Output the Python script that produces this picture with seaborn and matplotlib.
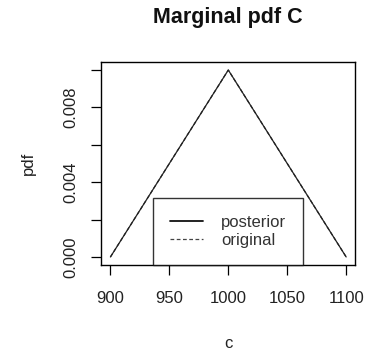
import matplotlib
matplotlib.use("Agg")
import matplotlib.pyplot as plt
import seaborn as sns
import pandas as pd
from matplotlib.lines import Line2D

# data
c_values = [900, 1000, 1100]
posterior_pdf = [0.0, 0.01, 0.0]
original_pdf = [0.0, 0.01, 0.0]
x_ticks = [900, 950, 1000, 1050, 1100]
y_ticks = [0.000, 0.002, 0.004, 0.006, 0.008, 0.010]
y_tick_labels = ["0.000", "", "0.004", "", "0.008", ""]

sns.set_theme(style="white")
plt.rcParams['font.family'] = ['Liberation Sans', 'DejaVu Sans']

df = pd.DataFrame({
    "c": c_values + c_values,
    "pdf": posterior_pdf + original_pdf,
    "series": ["posterior"] * len(c_values) + ["original"] * len(c_values),
})

fig = plt.figure(figsize=(3.7, 3.52), dpi=100)
ax = fig.add_axes([101/370, 1 - 265/352, 254/370, 203/352])

sns.lineplot(data=df, x="c", y="pdf", style="series",
             style_order=["posterior", "original"],
             dashes={"posterior": "", "original": (3, 2)},
             color="#222222", linewidth=0.9, ax=ax, legend=False)

ax.set_xlim(892, 1107.5)
ax.set_ylim(-0.00043, 0.01043)
ax.set_xticks(x_ticks)
ax.set_xticklabels([str(v) for v in x_ticks])
ax.set_yticks(y_ticks)
ax.set_yticklabels(y_tick_labels, rotation=90, va="center")

for s in ax.spines.values():
    s.set_visible(True)
    s.set_color("black")
    s.set_linewidth(1.0)

ax.tick_params(axis="both", direction="out", length=7, width=0.9,
               color="black", labelsize=12, labelcolor="#222222",
               bottom=True, left=True, top=False, right=False)
ax.tick_params(axis="x", pad=11.5)
ax.tick_params(axis="y", pad=9)

ax.set_title("Marginal pdf C", fontsize=15.5, fontweight="bold",
             y=1 + (62 - 18) / 203, va="center", color="#111111", pad=0)

ax.set_xlabel("c", fontsize=12, color="#222222")
ax.xaxis.set_label_coords(0.5, (265 - 343) / 203)
ax.xaxis.label.set_va("center")
ax.set_ylabel("pdf", fontsize=12, color="#222222")
ax.yaxis.set_label_coords((28 - 101) / 254, 0.5)
ax.yaxis.label.set_va("center")

handles = [Line2D([], [], color="#111111", lw=1.3, ls="-"),
           Line2D([], [], color="#444444", lw=0.9, ls=(0, (3, 2)))]
leg = ax.legend(handles, ["posterior", "original"], loc="lower center",
                bbox_to_anchor=(0.5, 0.0), borderaxespad=0, fancybox=False,
                frameon=True, fontsize=12, handlelength=2.0, borderpad=1.0,
                labelspacing=0.2, handletextpad=1.05)
leg.get_frame().set_edgecolor("black")
leg.get_frame().set_linewidth(1.0)
for t in leg.get_texts():
    t.set_color("#333333")

fig.savefig("out.png", dpi=100)
